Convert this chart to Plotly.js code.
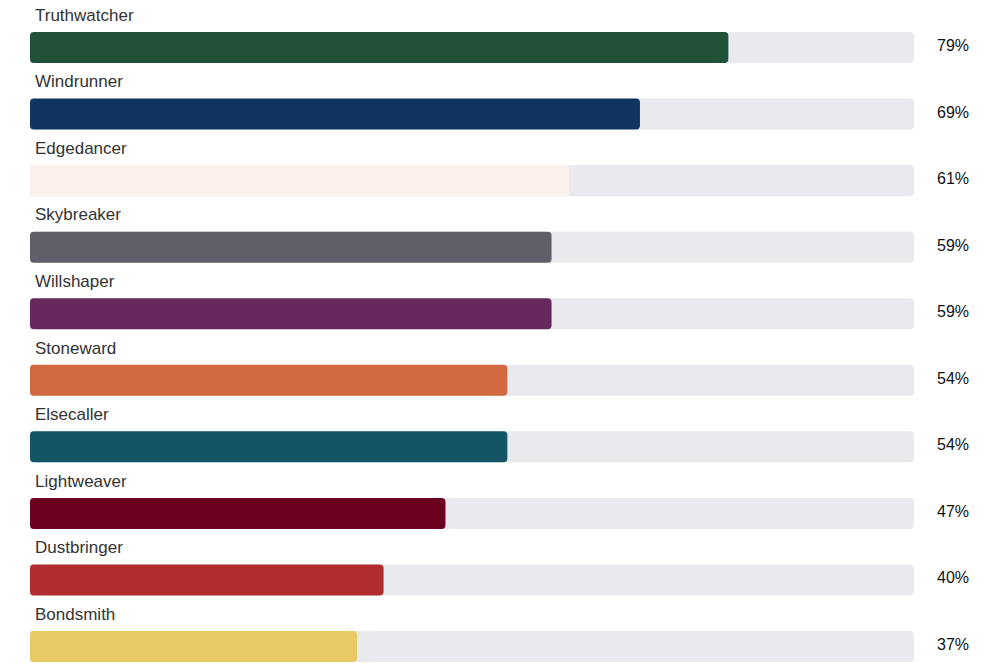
<!DOCTYPE html>
<html>
<head>
<meta charset="utf-8">
<script src="https://cdn.plot.ly/plotly-3.0.1.min.js"></script>
<style>html,body{margin:0;padding:0;background:#fff;}#chart{width:1000px;height:667px;}</style>
</head>
<body>
<div id="chart"></div>
<script>
const categories = ["Truthwatcher","Windrunner","Edgedancer","Skybreaker","Willshaper","Stoneward","Elsecaller","Lightweaver","Dustbringer","Bondsmith"];
const values = [79, 69, 61, 59, 59, 54, 54, 47, 40, 37];
const colors = ["#20523a","#0f3661","#fbf0ec","#5f5e69","#67285e","#d2683f","#135465","#6c001f","#b12d2d","#e8c964"];
const trackMax = 100;

const idx = categories.map((_, i) => i);
const barWidth = 0.466;

const track = {
  type: "bar", orientation: "h",
  y: idx, x: idx.map(() => trackMax),
  width: barWidth,
  marker: {color: "#e8eaed", cornerradius: 4},
  hoverinfo: "skip", showlegend: false
};
// drawn from the value back to zero so the rounded end sits on the left
const bars = {
  type: "bar", orientation: "h",
  y: idx, base: values, x: values.map(v => -v),
  width: barWidth,
  marker: {color: colors, cornerradius: 4},
  hovertext: categories.map((c, i) => c + ": " + values[i] + "%"),
  hoverinfo: "text", textposition: "none", showlegend: false
};

const annotations = [];
categories.forEach((c, i) => {
  annotations.push({
    x: 0, xref: "x", y: i - 0.5, yref: "y", text: c, showarrow: false,
    xanchor: "left", yanchor: "middle", xshift: 3, yshift: -1,
    font: {family: "Liberation Sans, Arial, sans-serif", size: 17, color: "#333333"}
  });
  annotations.push({
    x: 1, xref: "paper", y: i, yref: "y", text: values[i] + "%", showarrow: false,
    xanchor: "left", yanchor: "middle", xshift: 21, yshift: 2,
    font: {family: "Liberation Sans, Arial, sans-serif", size: 16, color: "#111111"}
  });
});

const layout = {
  width: 1000, height: 667,
  margin: {l: 30, r: 86, t: 0, b: 0, pad: 0},
  barmode: "overlay",
  paper_bgcolor: "#ffffff", plot_bgcolor: "#ffffff",
  xaxis: {range: [0, trackMax], visible: false, fixedrange: true},
  yaxis: {range: [9.308, -0.714], visible: false, fixedrange: true},
  annotations: annotations,
  showlegend: false
};

Plotly.newPlot("chart", [track, bars], layout, {displayModeBar: false, staticPlot: true});
</script>
</body>
</html>
